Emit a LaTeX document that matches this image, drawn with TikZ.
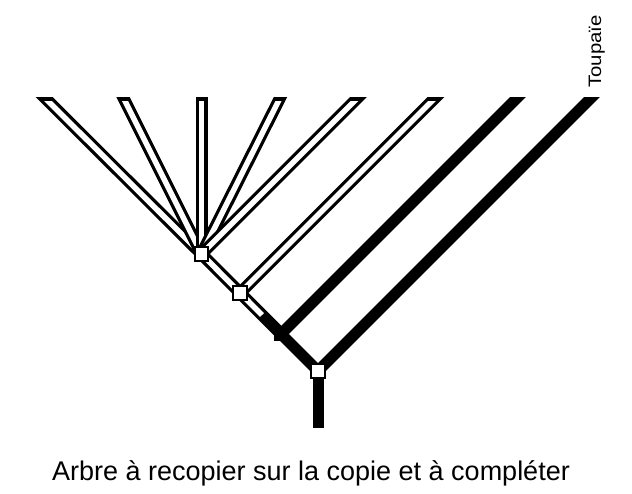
\documentclass[tikz,border=0pt]{standalone}
\usepackage{fontspec}
\setmainfont{Liberation Sans}
\usetikzlibrary{calc}
\newcommand\hollowbar[2]{%
  \begin{scope}\clip (0,98) rectangle (632,494);
    \draw[outerline] (#1) -- ($(#1)!1.1!(#2)$);
  \end{scope}
  \begin{scope}\clip (0,101.5) rectangle (632,494);
    \draw[innerline] (#1) -- ($(#1)!1.1!(#2)$);
  \end{scope}}
\newcommand\blackbar[2]{%
  \begin{scope}\clip (0,98) rectangle (632,494);
    \draw[solidline] (#1) -- ($(#1)!1.1!(#2)$);
  \end{scope}}
\begin{document}
\begin{tikzpicture}[x=1pt,y=-1pt,
  outerline/.style={line width=12pt,black,line cap=butt},
  innerline/.style={line width=5.5pt,white,line cap=butt},
  solidline/.style={line width=11pt,black,line cap=butt},
  wsq/.style={draw=black,fill=white,line width=1.8pt,minimum size=13.5pt,inner sep=0pt},
  bsq/.style={draw=black,fill=black,line width=1pt,minimum size=13pt,inner sep=0pt}]
\useasboundingbox (0,0) rectangle (632,494);
% nodes of the tree
\coordinate (n1) at (201.5,254);
\coordinate (n2) at (240,293);
\coordinate (m)  at (262,315);
\coordinate (n3) at (281,334);
\coordinate (n4) at (318,371);
\coordinate (r)  at (318,428);
% tips
\coordinate (t1) at (45,98);
\coordinate (t2) at (123.5,98);
\coordinate (t3) at (201.5,98);
\coordinate (t4) at (280,98);
\coordinate (t5) at (357.5,98);
\coordinate (t6) at (435,98);
\coordinate (t7) at (517,98);
\coordinate (t8) at (591,98);
% hollow branches
\hollowbar{n1}{t1}
\hollowbar{n1}{t2}
\hollowbar{n1}{t3}
\hollowbar{n1}{t4}
\hollowbar{n1}{t5}
% stem n1 -> n3, hollow then black
\draw[outerline] (n1) -- (n3);
\draw[innerline] (n1) -- (m);
\hollowbar{n2}{t6}
% black branches
\blackbar{n3}{t7}
\blackbar{n4}{t8}
\draw[solidline] (n3) -- (n4);
\draw[solidline] (n4) -- (r);
% squares
\node[wsq] (s1) at (n1) {};
\node[wsq] (s2) at (n2) {};
\node[bsq] (s3) at (n3) {};
\node[wsq] (s4) at (n4) {};
% labels
\node[rotate=90,anchor=base west,inner sep=0pt,font=\fontsize{18}{18}\selectfont,xscale=1.13] (toup) at (601,88) {Toupaïe};
\node[anchor=base,inner sep=0pt,font=\fontsize{27}{27}\selectfont] (cap) at (311,480) {Arbre à recopier sur la copie et à compléter};
\end{tikzpicture}
\end{document}
